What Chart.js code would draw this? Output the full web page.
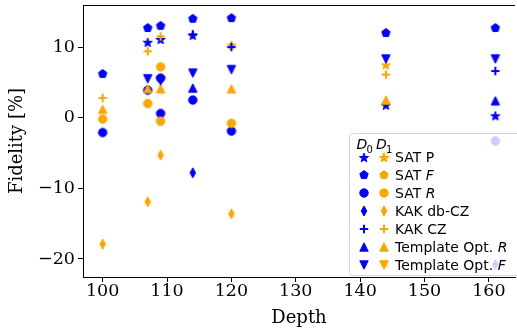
<!DOCTYPE html>
<html>
<head>
<meta charset="utf-8">
<script src="https://cdn.jsdelivr.net/npm/chart.js@4.4.1/dist/chart.umd.min.js"></script>
<style>
  html, body { margin: 0; padding: 0; overflow: hidden; background: #fff; }
  #wrap { width: 520px; height: 335px; }
</style>
</head>
<body>
<div id="wrap"><canvas id="fidelity-chart"></canvas></div>
<script>
// Series names and their markers (order = legend order)
var seriesLabels = ["SAT P", "SAT F", "SAT R", "KAK db-CZ", "KAK CZ", "Template Opt. R", "Template Opt. F"];
var italicLast = [false, true, true, false, false, true, true];
var seriesShapes = ["star", "pentagon", "circle", "thinDiamond", "plus", "triangleUp", "triangleDown"];

// [depth, fidelity %] pairs, D0 (blue) and D1 (orange)
var satP_D0 = [[107, 10.6], [109, 11.0], [114, 11.6], [144, 1.7], [161, 0.2]];
var satP_D1 = [[120, 10.2], [144, 7.4]];
var satF_D0 = [[100, 6.2], [107, 12.7], [109, 13.0], [114, 14.0], [120, 14.1], [144, 12.0], [161, 12.7]];
var satF_D1 = [];
var satR_D0 = [[100, -2.1], [107, 3.9], [109, 5.6], [109, 0.6], [114, 2.5], [120, -1.9], [161, -3.3]];
var satR_D1 = [[100, -0.2], [107, 2.0], [109, 7.2], [109, -0.5], [120, -0.8], [144, -5.4]];
var kakDb_D0 = [[114, -7.8], [161, -20.8]];
var kakDb_D1 = [[100, -17.9], [107, -11.9], [109, -5.3], [120, -13.6], [144, -20.6]];
var kakCz_D0 = [[114, 11.8], [120, 10.0], [161, 6.6]];
var kakCz_D1 = [[100, 2.8], [107, 9.4], [109, 11.5], [144, 6.1]];
var tplR_D0 = [[114, 4.2], [161, 2.4]];
var tplR_D1 = [[100, 1.2], [107, 4.1], [109, 4.1], [120, 4.1], [144, 2.5]];
var tplF_D0 = [[107, 5.5], [109, 5.2], [114, 6.3], [120, 6.8], [144, 8.3], [161, 8.3]];
var tplF_D1 = [];

var seriesD0 = [satP_D0, satF_D0, satR_D0, kakDb_D0, kakCz_D0, tplR_D0, tplF_D0];
var seriesD1 = [satP_D1, satF_D1, satR_D1, kakDb_D1, kakCz_D1, tplR_D1, tplF_D1];

var xTicks = [100, 110, 120, 130, 140, 150, 160];
var yTicks = [-20, -10, 0, 10];

var colD0 = "#0000ff";
var colD1 = "#ffa500";

// draw a matplotlib-like marker on a small canvas, used as pointStyle
function makeMarker(shape, color) {
  var c = document.createElement("canvas");
  c.width = 16; c.height = 16;
  var g = c.getContext("2d");
  var h = 4.2;
  g.translate(8, 8);
  g.fillStyle = color;
  g.strokeStyle = color;
  g.lineWidth = 1;
  g.lineJoin = "miter";
  g.beginPath();
  if (shape === "circle") {
    g.arc(0, 0, h, 0, Math.PI * 2);
  } else if (shape === "pentagon") {
    for (var i = 0; i < 5; i++) {
      var a = -Math.PI / 2 + i * 2 * Math.PI / 5;
      g.lineTo(h * 1.05 * Math.cos(a), h * 1.05 * Math.sin(a));
    }
  } else if (shape === "star") {
    for (var j = 0; j < 10; j++) {
      var b = -Math.PI / 2 + j * Math.PI / 5;
      var r = j % 2 === 0 ? h * 1.15 : h * 0.45;
      g.lineTo(r * Math.cos(b), r * Math.sin(b));
    }
  } else if (shape === "thinDiamond") {
    g.moveTo(0, -h * 1.2); g.lineTo(h * 0.65, 0); g.lineTo(0, h * 1.2); g.lineTo(-h * 0.65, 0);
  } else if (shape === "triangleUp") {
    g.moveTo(0, -h); g.lineTo(h, h); g.lineTo(-h, h);
  } else if (shape === "triangleDown") {
    g.moveTo(0, h); g.lineTo(h, -h); g.lineTo(-h, -h);
  } else if (shape === "plus") {
    g.lineWidth = 2;
    g.moveTo(-h, 0); g.lineTo(h, 0); g.moveTo(0, -h); g.lineTo(0, h);
    g.stroke();
    return c;
  }
  g.closePath();
  g.fill();
  g.stroke();
  return c;
}

var markersD0 = seriesShapes.map(function(s) { return makeMarker(s, colD0); });
var markersD1 = seriesShapes.map(function(s) { return makeMarker(s, colD1); });

function toPoints(arr) {
  return arr.map(function(p) { return { x: p[0], y: p[1] }; });
}

var datasets = [];
seriesLabels.forEach(function(name, k) {
  datasets.push({ label: name + " D0", data: toPoints(seriesD0[k]), pointStyle: markersD0[k], order: 100 - 2 * k });
  datasets.push({ label: name + " D1", data: toPoints(seriesD1[k]), pointStyle: markersD1[k], order: 99 - 2 * k });
});

// frame on top and the legend box drawn by hand
var framePlugin = {
  id: "frameAndLegend",
  afterDraw: function(chart) {
    var ctx = chart.ctx;
    var a = chart.chartArea;
    ctx.save();
    ctx.strokeStyle = "#000";
    ctx.lineWidth = 1;
    ctx.beginPath();
    ctx.moveTo(a.left, a.top + 0.5);
    ctx.lineTo(a.right, a.top + 0.5);
    ctx.stroke();

    // legend box
    var bx = 349.5, by = 133.5, bw = 180, bh = 142;
    ctx.fillStyle = "rgba(255,255,255,0.8)";
    ctx.strokeStyle = "rgba(204,204,204,0.8)";
    ctx.beginPath();
    ctx.roundRect(bx, by, bw, bh, 3);
    ctx.fill();
    ctx.stroke();

    // title D0 D1
    ctx.fillStyle = "#000";
    ctx.textBaseline = "alphabetic";
    ctx.font = "italic 14px 'DejaVu Sans'";
    ctx.fillText("D", 356.5, 149);
    ctx.fillText("D", 376, 149);
    ctx.font = "10px 'DejaVu Sans'";
    ctx.fillText("0", 366.5, 152.5);
    ctx.fillText("1", 386, 152.5);

    // rows
    ctx.textBaseline = "middle";
    seriesLabels.forEach(function(name, i) {
      var y = 157.5 + i * 17.95;
      ctx.drawImage(markersD0[i], 364 - 8, Math.round(y) - 8);
      ctx.drawImage(markersD1[i], 384 - 8, Math.round(y) - 8);
      ctx.fillStyle = "#000";
      ctx.font = "14px 'DejaVu Sans'";
      var base = italicLast[i] ? name.slice(0, -1) : name;
      ctx.fillText(base, 395, y + 1);
      if (italicLast[i]) {
        var w = ctx.measureText(base).width;
        ctx.font = "italic 14px 'DejaVu Sans'";
        ctx.fillText(name.slice(-1), 395 + w, y + 1);
      }
    });
    ctx.restore();
  }
};

var tickFont = { family: "'DejaVu Serif'", size: 17.5 };

new Chart(document.getElementById("fidelity-chart").getContext("2d"), {
  type: "scatter",
  data: { datasets: datasets },
  options: {
    responsive: true,
    maintainAspectRatio: false,
    animation: false,
    events: [],
    layout: { padding: { top: 3, left: 0, right: 0, bottom: 0 } },
    plugins: {
      legend: { display: false },
      tooltip: { enabled: false }
    },
    scales: {
      x: {
        type: "linear",
        min: 96.95,
        max: 164.05,
        afterBuildTicks: function(scale) {
          scale.ticks = xTicks.map(function(v) { return { value: v }; });
        },
        afterFit: function(scale) {
          scale.height = 58;
          scale.paddingLeft = 0;
          scale.paddingRight = 0;
        },
        grid: { display: true, drawOnChartArea: false, drawTicks: true, tickLength: 5, tickColor: "#000" },
        border: { display: true, color: "#000", width: 1 },
        ticks: { color: "#000", font: tickFont, padding: -1, maxRotation: 0 },
        title: { display: true, text: "Depth", color: "#000", font: { family: "'DejaVu Serif'", size: 18 }, padding: { top: 0, bottom: 6 } }
      },
      y: {
        type: "linear",
        min: -22.55,
        max: 15.95,
        afterBuildTicks: function(scale) {
          scale.ticks = yTicks.map(function(v) { return { value: v }; });
        },
        afterFit: function(scale) {
          scale.width = 83;
          scale.paddingTop = 0;
          scale.paddingBottom = 0;
        },
        grid: { display: true, drawOnChartArea: false, drawTicks: true, tickLength: 5, tickColor: "#000" },
        border: { display: true, color: "#000", width: 1 },
        ticks: {
          color: "#000",
          font: tickFont,
          padding: 3,
          callback: function(v) { return String(v).replace("-", "\u2212"); }
        },
        title: { display: true, text: "Fidelity [%]", color: "#000", font: { family: "'DejaVu Serif'", size: 18 }, padding: { top: 7, bottom: 4 } }
      }
    }
  },
  plugins: [framePlugin]
});
</script>
</body>
</html>
